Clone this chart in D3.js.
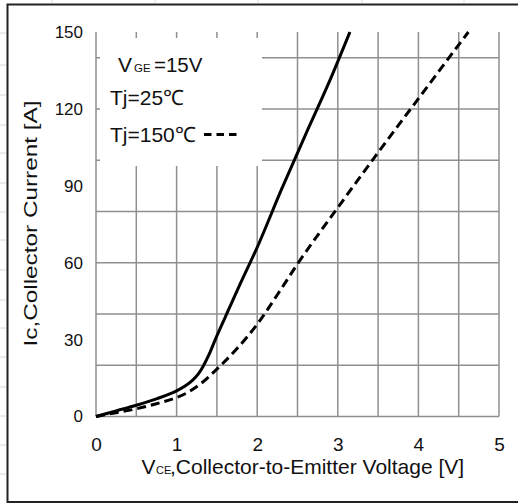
<!DOCTYPE html>
<html>
<head>
<meta charset="utf-8">
<script src="https://cdn.jsdelivr.net/npm/d3@7"></script>
<style>
  html, body { margin: 0; padding: 0; background: #fff; }
  svg { display: block; font-family: "Liberation Sans", Arial, sans-serif; }
</style>
</head>
<body>
<svg id="chart" width="518" height="504"></svg>
<script>
// ---- data ----
const vce25  = [0, 0.25, 0.5, 0.75, 1.0, 1.1, 1.2, 1.27, 1.33, 1.4, 1.48, 1.6, 1.8, 2.0, 2.3, 2.6, 2.9, 3.15];
const ic25   = [0, 2.2, 4.4, 6.9, 10, 11.8, 14.2, 16.6, 19.6, 24, 30, 38.5, 52.5, 66, 88.5, 110, 131, 150];
const vce150 = [0, 0.25, 0.5, 0.75, 1.0, 1.15, 1.3, 1.5, 1.75, 2.0, 2.25, 2.5, 3.0, 3.5, 4.0, 4.5, 4.62];
const ic150  = [0, 1.5, 3.0, 5.0, 7.4, 9.6, 12.8, 18.5, 26.5, 36, 47.5, 59.5, 81.5, 103, 124, 145, 150];
const xTickValues = [0, 1, 2, 3, 4, 5];
const yTickValues = [0, 30, 60, 90, 120, 150];
const xTitleMain = ",Collector-to-Emitter Voltage [V]";
const yTitle = "Ic,Collector Current [A]";
const legendVge = ["V", "GE", "=15V"];
const legend25 = "Tj=25\u2103";
const legend150 = "Tj=150\u2103";

const svg = d3.select("#chart");
const x = d3.scaleLinear().domain([0, 5]).range([96, 499]);
const y = d3.scaleLinear().domain([0, 150]).range([416.5, 32]);

// faint sheet cell lines outside the frame
const sheet = svg.append("g").attr("stroke", "#d8d8d8").attr("stroke-width", 1);
[52, 155, 258, 362, 464].forEach(px => sheet.append("line").attr("x1", px).attr("x2", px).attr("y1", 0).attr("y2", 3));
[33, 65, 95, 125, 153, 183, 212, 240, 270, 300, 328, 357, 387, 416, 445, 474].forEach(py =>
  sheet.append("line").attr("x1", 0).attr("x2", 6).attr("y1", py).attr("y2", py));

// outer frame
const frame = svg.append("g").attr("stroke", "#222").attr("stroke-width", 2).attr("fill", "none");
frame.append("path").attr("d", "M520,4.5 H7.5 V502 H520");

// grid
const grid = svg.append("g").attr("stroke", "#8f8f8f").attr("stroke-width", 1.5);
x.ticks(10).forEach(v => grid.append("line")
  .attr("x1", x(v)).attr("x2", x(v)).attr("y1", y(0)).attr("y2", y(150)));
y.ticks(10).forEach(v => grid.append("line")
  .attr("x1", x(0)).attr("x2", x(5)).attr("y1", y(v)).attr("y2", y(v)));

// legend box (white, hides grid)
svg.append("rect").attr("x", 100).attr("y", 38).attr("width", 162).attr("height", 128).attr("fill", "#fff");

// axes labels
const xAxis = d3.axisBottom(x).tickValues(xTickValues).tickSize(0).tickPadding(21).tickFormat(d3.format("d"));
const gx = svg.append("g").attr("transform", `translate(0,${y(0)})`).call(xAxis);
gx.select(".domain").remove();
gx.selectAll("text").attr("font-size", 19).attr("fill", "#111").attr("font-family", "Liberation Sans, Arial, sans-serif");

const yAxis = d3.axisLeft(y).tickValues(yTickValues).tickSize(0).tickPadding(13).tickFormat(d3.format("d"));
const gy = svg.append("g").attr("transform", `translate(${x(0)},0)`).call(yAxis);
gy.select(".domain").remove();
gy.selectAll("text").attr("font-size", 17).attr("fill", "#111").attr("font-family", "Liberation Sans, Arial, sans-serif");

// curves
const line = d3.line().x(d => x(d[0])).y(d => y(d[1])).curve(d3.curveMonotoneX);
svg.append("path").datum(d3.zip(vce25, ic25)).attr("d", line)
  .attr("fill", "none").attr("stroke", "#000").attr("stroke-width", 3);
svg.append("path").datum(d3.zip(vce150, ic150)).attr("d", line)
  .attr("fill", "none").attr("stroke", "#000").attr("stroke-width", 3)
  .attr("stroke-dasharray", "9,5");

// legend texts
const lg = svg.append("g").attr("fill", "#111");
const vge = lg.append("text").attr("y", 72);
vge.append("tspan").attr("x", 118).attr("font-size", 21).text(legendVge[0]);
vge.append("tspan").attr("x", 134).attr("font-size", 11.5).text(legendVge[1]);
vge.append("tspan").attr("x", 154).attr("font-size", 20.5).text(legendVge[2]);
lg.append("text").attr("x", 110).attr("y", 105).attr("font-size", 21).text(legend25);
lg.append("text").attr("x", 110).attr("y", 141.5).attr("font-size", 21).text(legend150);
svg.append("line").attr("x1", 204).attr("x2", 237).attr("y1", 134.5).attr("y2", 134.5)
  .attr("stroke", "#000").attr("stroke-width", 3).attr("stroke-dasharray", "7.5,5");

// x title (one text element with tspans)
const xt = svg.append("text").attr("y", 474).attr("fill", "#111");
xt.append("tspan").attr("x", 141.5).attr("font-size", 21).text("V");
xt.append("tspan").attr("x", 156).attr("font-size", 11).text("CE");
xt.append("tspan").attr("x", 170).attr("font-size", 21).text(xTitleMain);

// y title
svg.append("text").attr("transform", "translate(37,223.5) rotate(-90)")
  .attr("text-anchor", "middle").attr("font-size", 18).attr("fill", "#111")
  .attr("textLength", 246).attr("lengthAdjust", "spacingAndGlyphs").text(yTitle);
</script>
</body>
</html>
